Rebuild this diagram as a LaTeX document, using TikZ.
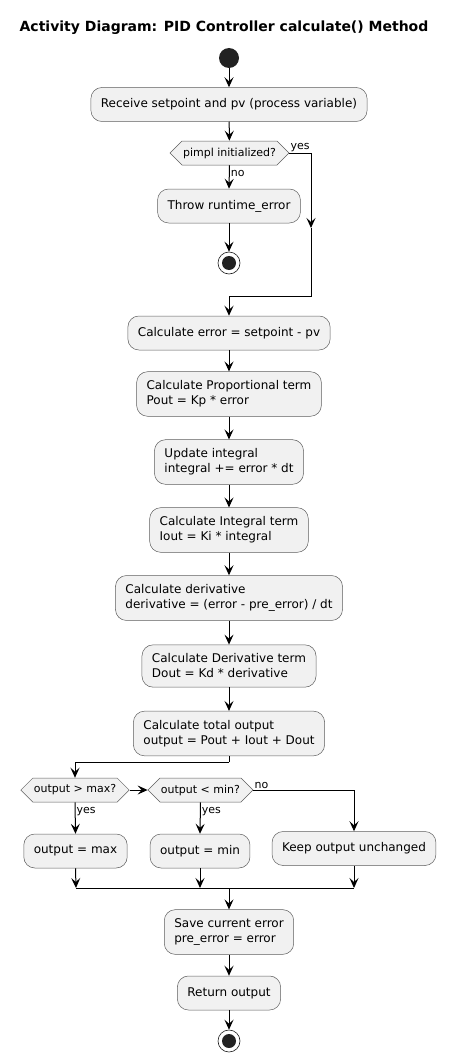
\documentclass[tikz,border=0pt]{standalone}
\usepackage{fontspec}
\setmainfont{DejaVu Sans}
\usetikzlibrary{arrows.meta, shapes.symbols}
\definecolor{actfill}{HTML}{F1F1F1}
\definecolor{actline}{HTML}{181818}
\definecolor{dot}{HTML}{222222}

\begin{document}
\begin{tikzpicture}[x=1pt, y=-1pt,
    act/.style={draw=actline!70, fill=actfill, line width=0.5pt, rounded corners=11pt,
        font=\fontsize{12}{15}\selectfont, align=left, inner xsep=10pt, inner ysep=9pt, minimum height=34pt},
    cond/.style={draw=actline!70, fill=actfill, line width=0.5pt, shape=signal,
        signal to=east and west, signal pointer angle=90,
        font=\fontsize{11}{13}\selectfont, inner xsep=1pt, inner ysep=3pt, minimum height=24pt},
    lbl/.style={font=\fontsize{11}{13}\selectfont, inner sep=1pt},
    startdot/.style={circle, fill=dot, minimum size=20pt, inner sep=0pt},
    stopdot/.style={circle, draw=actline, line width=0.6pt, minimum size=22pt, inner sep=0pt,
        path picture={\fill[dot] (path picture bounding box.center) circle (7pt);}},
    arr/.style={line width=1pt, -{Stealth[length=10pt, width=9pt, inset=4pt]}},
    ln/.style={line width=1pt}]
    \useasboundingbox (0,0) rectangle (449,1062);
    \node[font=\fontsize{14}{16}\selectfont\bfseries] (title) at (224,28) {Activity Diagram: PID Controller calculate() Method};
    \node[startdot] (start) at (229,58) {};
    \node[act] (recv) at (229,104.5) {Receive setpoint and pv (process variable)};
    \node[cond] (init) at (229.5,153) {pimpl initialized?};
    \node[act] (throw) at (229,206) {Throw runtime\_error};
    \node[stopdot] (stopa) at (229,263) {};
    \node[act] (err) at (229,333) {Calculate error = setpoint - pv};
    \node[act] (prop) at (229,394) {Calculate Proportional term\\Pout = Kp * error};
    \node[act] (upd) at (229,462) {Update integral\\integral += error * dt};
    \node[act] (iterm) at (229,530) {Calculate Integral term\\Iout = Ki * integral};
    \node[act] (deriv) at (229,598) {Calculate derivative\\derivative = (error - pre\_error) / dt};
    \node[act] (dterm) at (229,666) {Calculate Derivative term\\Dout = Kd * derivative};
    \node[act] (total) at (229,733.5) {Calculate total output\\output = Pout + Iout + Dout};
    \node[cond] (maxq) at (75,790) {output > max?};
    \node[cond] (minq) at (200.5,790) {output < min?};
    \node[act] (setmax) at (75.5,851) {output = max};
    \node[act] (setmin) at (200,851) {output = min};
    \node[act] (keep) at (354,848.5) {Keep output unchanged};
    \node[act] (save) at (229,932) {Save current error\\pre\_error = error};
    \node[act] (ret) at (229,993) {Return output};
    \node[stopdot] (stopb) at (229,1041) {};

    \coordinate (yesmid) at (311,228);
    \coordinate (yesend) at (311,296);
    \coordinate (joinerr) at (229,296);
    \coordinate (split) at (229,762);
    \coordinate (jmax) at (76,888);
    \coordinate (jmin) at (200,888);
    \coordinate (jkeep) at (354,888);
    \coordinate (jmid) at (229,888);

    \draw[arr] (start) -- (recv);
    \draw[arr] (recv) -- (init);
    \draw[arr] (init.south) -- (throw.north) node[lbl, pos=0.35, anchor=west] {no};
    \draw[arr] (throw) -- (stopa);
    \draw[arr] (init.east) -| (yesmid);
    \draw[ln] (yesmid) -- (yesend) -- (joinerr);
    \draw[arr] (joinerr) -- (err.north);
    \node[lbl, anchor=south west] (yesa) at (init.east) {yes};
    \draw[arr] (err) -- (prop);
    \draw[arr] (prop) -- (upd);
    \draw[arr] (upd) -- (iterm);
    \draw[arr] (iterm) -- (deriv);
    \draw[arr] (deriv) -- (dterm);
    \draw[arr] (dterm) -- (total);
    \draw[ln] (total.south) -- (split);
    \draw[arr] (split) -| (maxq.north);
    \draw[arr] (maxq.east) -- (minq.west);
    \draw[arr] (maxq.south) -- (setmax.north) node[lbl, pos=0.3, anchor=west] {yes};
    \draw[arr] (minq.south) -- (setmin.north) node[lbl, pos=0.3, anchor=west] {yes};
    \draw[arr] (minq.east) -| (keep.north);
    \node[lbl, anchor=south west] (noc) at (minq.east) {no};
    \draw[arr] (setmax.south) -- (jmax);
    \draw[arr] (setmin.south) -- (jmin);
    \draw[arr] (keep.south) -- (jkeep);
    \draw[ln] (jmax) -- (jkeep);
    \draw[arr] (jmid) -- (save.north);
    \draw[arr] (save) -- (ret);
    \draw[arr] (ret) -- (stopb);
\end{tikzpicture}
\end{document}
